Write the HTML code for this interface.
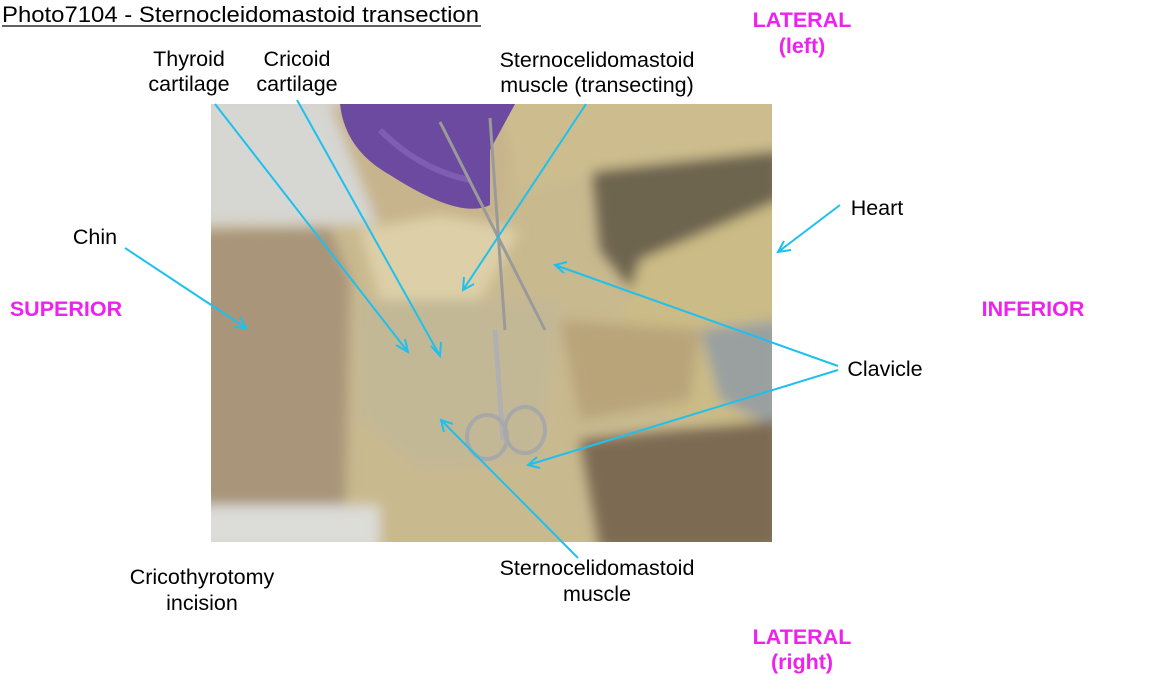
<!DOCTYPE html>
<html><head><style>
body{margin:0;background:#fff;}
svg text{font-family:"Liberation Sans",Arial,sans-serif;}
</style></head><body>
<svg width="1153" height="685" xmlns="http://www.w3.org/2000/svg">
<defs>
<filter id="bl"><feGaussianBlur stdDeviation="6"/></filter>
<clipPath id="cp"><rect x="211" y="104" width="561" height="438"/></clipPath>
</defs>
<g clip-path="url(#cp)">
<rect x="211" y="104" width="561" height="438" fill="#c9b98f"/>
<g filter="url(#bl)">
<rect x="200" y="95" width="180" height="130" fill="#d6d6d2"/>
<polygon points="330,104 520,104 500,230 380,230" fill="#c8b48c"/>
<polygon points="590,150 780,120 780,270 640,300 600,250" fill="#6e6550"/>
<polygon points="500,104 780,104 780,150 600,170 520,190" fill="#cdbd8e"/>
<polygon points="640,260 780,200 780,430 680,420 610,360" fill="#cbbb86"/>
<polygon points="700,330 780,320 780,430 720,400" fill="#9aa0a0"/>
<polygon points="580,440 780,420 780,550 600,550" fill="#7d6a52"/>
<polygon points="200,230 330,228 350,280 345,520 200,520" fill="#a99579"/>
<rect x="200" y="505" width="180" height="45" fill="#dcdcd8"/>
<polygon points="360,230 440,215 520,230 480,300 380,300" fill="#ddd0a8"/>
<polygon points="360,300 560,300 540,460 420,470 360,420" fill="#c3b896"/>
<polygon points="560,320 700,330 690,400 580,420" fill="#b9a47a"/>
</g>
<path d="M340,104 Q345,150 390,175 Q460,220 490,205 L490,150 L515,104 Z" fill="#6c4aa0"/>
<path d="M380,130 Q420,170 470,180" stroke="#8a6bc0" stroke-width="6" fill="none" opacity=".6"/>
<line x1="440" y1="122" x2="545" y2="330" stroke="#9a9a9a" stroke-width="3"/>
<line x1="490" y1="118" x2="505" y2="330" stroke="#9a9a9a" stroke-width="3"/>
<line x1="495" y1="330" x2="503" y2="440" stroke="#b0b0b0" stroke-width="5"/>
<ellipse cx="487" cy="437" rx="20" ry="22" fill="none" stroke="#a8a8a8" stroke-width="4"/>
<ellipse cx="525" cy="430" rx="20" ry="23" fill="none" stroke="#a8a8a8" stroke-width="4"/>
</g>
<text x="2" y="22" font-size="22" fill="#000" textLength="477" lengthAdjust="spacingAndGlyphs">Photo7104 - Sternocleidomastoid transection</text>
<line x1="2" y1="26" x2="481" y2="26" stroke="#000" stroke-width="1.3"/>
<g font-size="21.5" fill="#000" text-anchor="middle">
<text x="189" y="66">Thyroid</text><text x="189" y="91">cartilage</text>
<text x="297" y="66">Cricoid</text><text x="297" y="91">cartilage</text>
<text x="597" y="67">Sternocelidomastoid</text><text x="597" y="92">muscle (transecting)</text>
<text x="95" y="244">Chin</text>
<text x="877" y="215">Heart</text>
<text x="885" y="376">Clavicle</text>
<text x="597" y="575">Sternocelidomastoid</text><text x="597" y="601">muscle</text>
<text x="202" y="584">Cricothyrotomy</text><text x="202" y="610">incision</text>
</g>
<g font-size="21.5" fill="#ee22ee" font-weight="bold" text-anchor="middle">
<text x="66" y="316">SUPERIOR</text>
<text x="1033" y="316">INFERIOR</text>
<text x="802" y="27">LATERAL</text><text x="802" y="53">(left)</text>
<text x="802" y="644">LATERAL</text><text x="802" y="669">(right)</text>
</g>
<g stroke="#1ec0ee" stroke-width="2" fill="none">
<path d="M125,248 L246,328 M234,327 L246,328 L240,317"/>
<path d="M215,104 L408,352 M396,345 L408,352 L405,339"/>
<path d="M297,100 L440,356 M431,346 L440,356 L441,342"/>
<path d="M586,104 L463,290 M464,277 L463,290 L474,284"/>
<path d="M840,205 L778,252 M784,241 L778,252 L791,250"/>
<path d="M838,366 L555,265 M564,273 L555,265 L567,262"/>
<path d="M838,370 L528,465 M540,468 L528,465 L537,457"/>
<path d="M578,558 L441,420 M444,432 L441,420 L453,424"/>
</g>
</svg>
</body></html>
